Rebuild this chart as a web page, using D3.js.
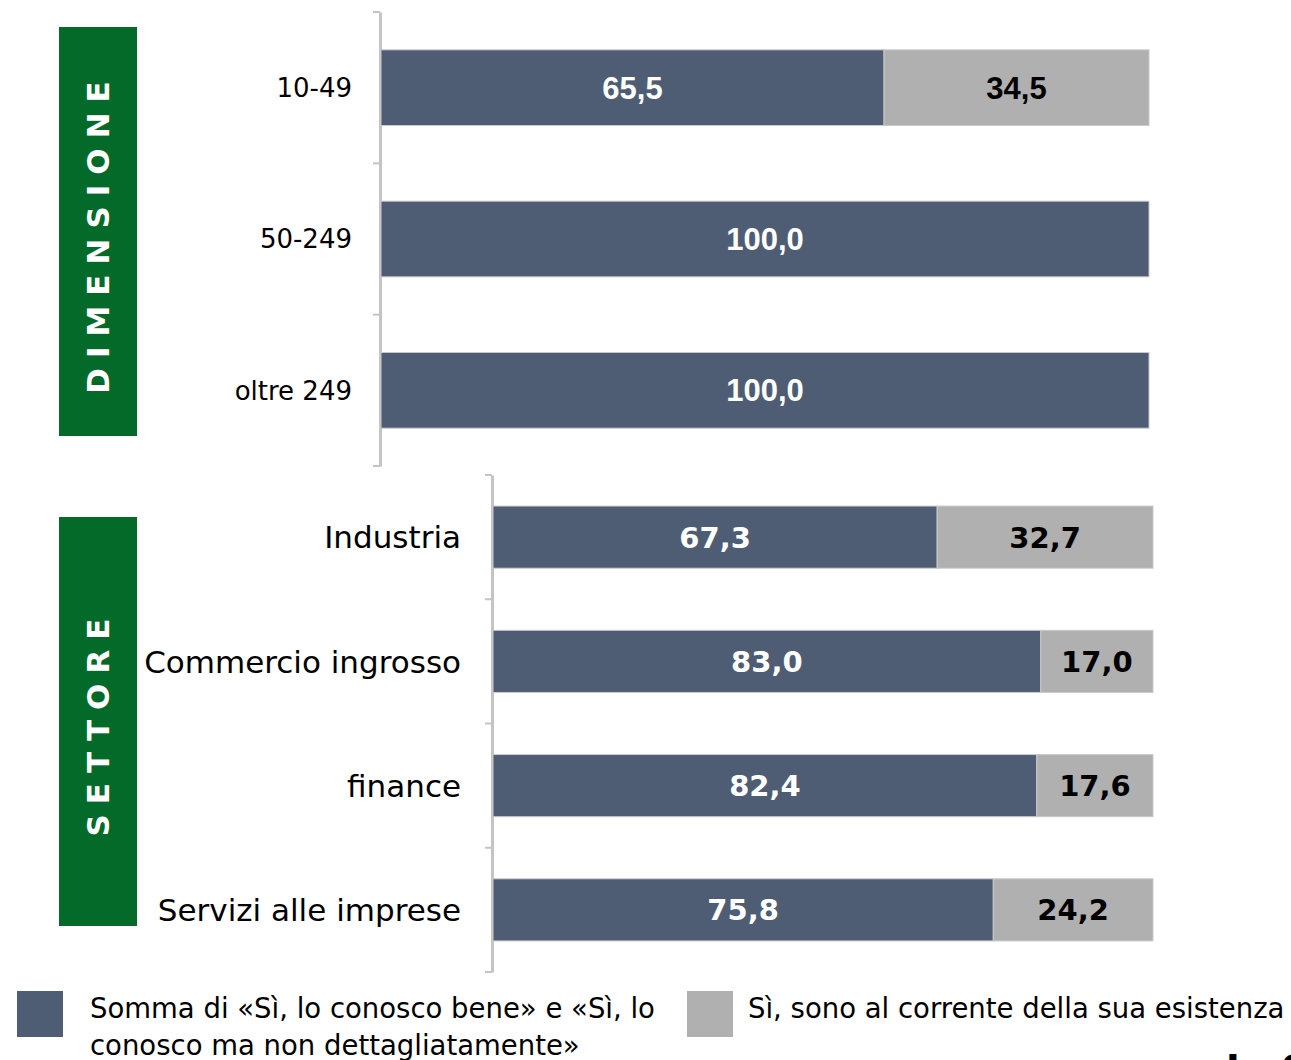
<!DOCTYPE html>
<html>
<head>
<meta charset="utf-8">
<script src="https://cdn.jsdelivr.net/npm/d3@7/dist/d3.min.js"></script>
<style>
  html, body { margin: 0; padding: 0; background: #ffffff; }
  svg { display: block; }
  text { font-family: "DejaVu Sans", "Noto Sans", sans-serif; }
</style>
</head>
<body>
<svg id="chart" width="1291" height="1060"></svg>
<script>
// Dimensione aziendale
const sizeCategories = ["10-49", "50-249", "oltre 249"];
const sizeKnowWell   = [65.5, 100.0, 100.0];
const sizeAware      = [34.5, 0, 0];

// Settore
const sectorCategories = ["Industria", "Commercio ingrosso", "finance", "Servizi alle imprese"];
const sectorKnowWell   = [67.3, 83.0, 82.4, 75.8];
const sectorAware      = [32.7, 17.0, 17.6, 24.2];

const seriesNames = [
  ["Somma di «Sì, lo conosco bene» e «Sì, lo", "conosco ma non dettagliatamente»"],
  ["Sì, sono al corrente della sua esistenza"]
];
const groupTitles = ["DIMENSIONE", "SETTORE"];

const DARK = "#4e5d73", LIGHT = "#b0b0b0", GREEN = "#046a29", AXIS = "#c4c4c4";
const fmt = v => d3.format(".1f")(v).replace(".", ",");

const svg = d3.select("#chart");

function panel(cfg) {
  const { cats, a, b, x0, x1, y0, y1, catSize, valSize, catX, valFont } = cfg;
  const rows = cats.map((c, i) => ({ cat: c, a: a[i], b: b[i] }));
  const y = d3.scaleBand().domain(cats).range([y0, y1]).paddingInner(0.5).paddingOuter(0.25);
  const x = d3.scaleLinear().domain([0, 100]).range([x0, x1]);
  const g = svg.append("g");

  // vertical axis line, ticks on the band boundaries
  const axis = d3.axisLeft(y).tickSize(0).tickFormat("");
  const ag = g.append("g").attr("transform", `translate(${x0 - 1},0)`).call(axis);
  ag.select(".domain").attr("stroke", AXIS).attr("stroke-width", 3);
  const step = y.step();
  const bounds = d3.range(cats.length + 1).map(i => y0 + i * step);
  g.selectAll("line.tk").data(bounds).join("line")
    .attr("x1", x0 - 8).attr("x2", x0 - 1)
    .attr("y1", d => d).attr("y2", d => d)
    .attr("stroke", AXIS).attr("stroke-width", 2);

  // stacked bars
  g.selectAll("rect.a").data(rows).join("rect")
    .attr("x", x(0)).attr("y", d => y(d.cat))
    .attr("width", d => x(d.a) - x(0)).attr("height", y.bandwidth())
    .attr("fill", DARK).attr("stroke", "#c9c9c9").attr("stroke-width", 1);
  g.selectAll("rect.b").data(rows.filter(d => d.b > 0)).join("rect")
    .attr("x", d => x(d.a)).attr("y", d => y(d.cat))
    .attr("width", d => x(d.a + d.b) - x(d.a)).attr("height", y.bandwidth())
    .attr("fill", LIGHT).attr("stroke", "#c9c9c9").attr("stroke-width", 1);

  // value labels
  g.selectAll("text.va").data(rows).join("text")
    .attr("x", d => (x(0) + x(d.a)) / 2).attr("y", d => y(d.cat) + y.bandwidth() / 2)
    .attr("dy", "0.36em").attr("text-anchor", "middle")
    .style("font-family", valFont).style("font-weight", "bold")
    .style("font-size", valSize + "px").attr("fill", "#ffffff")
    .text(d => fmt(d.a));
  g.selectAll("text.vb").data(rows.filter(d => d.b > 0)).join("text")
    .attr("x", d => (x(d.a) + x(d.a + d.b)) / 2).attr("y", d => y(d.cat) + y.bandwidth() / 2)
    .attr("dy", "0.36em").attr("text-anchor", "middle")
    .style("font-family", valFont).style("font-weight", "bold")
    .style("font-size", valSize + "px").attr("fill", "#000000")
    .text(d => fmt(d.b));

  // category labels
  g.selectAll("text.cat").data(rows).join("text")
    .attr("x", catX).attr("y", d => y(d.cat) + y.bandwidth() / 2)
    .attr("dy", "0.36em").attr("text-anchor", "end")
    .style("font-size", catSize + "px").attr("fill", "#000000")
    .text(d => d.cat);
}

panel({ cats: sizeCategories, a: sizeKnowWell, b: sizeAware,
        x0: 381, x1: 1149, y0: 12, y1: 466, catSize: 26, valSize: 31, catX: 352,
        valFont: "'Liberation Sans', Arial, sans-serif" });
panel({ cats: sectorCategories, a: sectorKnowWell, b: sectorAware,
        x0: 493, x1: 1153, y0: 475, y1: 972, catSize: 31, valSize: 29, catX: 461,
        valFont: "'DejaVu Sans', sans-serif" });

// green group boxes with vertical titles
const boxes = [{ t: groupTitles[0], y0: 27, y1: 436 }, { t: groupTitles[1], y0: 517, y1: 926 }];
boxes.forEach(b => {
  svg.append("rect").attr("x", 59).attr("y", b.y0).attr("width", 78).attr("height", b.y1 - b.y0)
    .attr("fill", GREEN);
  svg.append("text")
    .attr("transform", `translate(${98},${(b.y0 + b.y1) / 2 + 1}) rotate(-90)`)
    .attr("text-anchor", "middle").attr("dy", "0.36em")
    .style("font-family", "'DejaVu Sans', sans-serif").style("font-weight", "bold")
    .style("font-size", "31px").style("letter-spacing", "10px")
    .attr("fill", "#ffffff").text(b.t);
});

// legend
const legend = [{ x: 17, c: DARK, lines: seriesNames[0] }, { x: 687, c: LIGHT, lines: seriesNames[1] }];
legend.forEach(l => {
  svg.append("rect").attr("x", l.x).attr("y", 991).attr("width", 46).attr("height", 46).attr("fill", l.c);
  const tx = l.x + (l.x > 100 ? 61 : 73);
  const t = svg.append("text").attr("x", tx).attr("y", 1018)
    .style("font-size", "27.5px").attr("fill", "#000");
  l.lines.forEach((s, i) => t.append("tspan").attr("x", tx).attr("dy", i ? 37 : 0).text(s));
});

// footer text running off the bottom edge
svg.append("text").attr("x", 1226).attr("y", 1085)
  .style("font-size", "40px").style("font-weight", "bold").attr("fill", "#000").text("la S");
</script>
</body>
</html>
